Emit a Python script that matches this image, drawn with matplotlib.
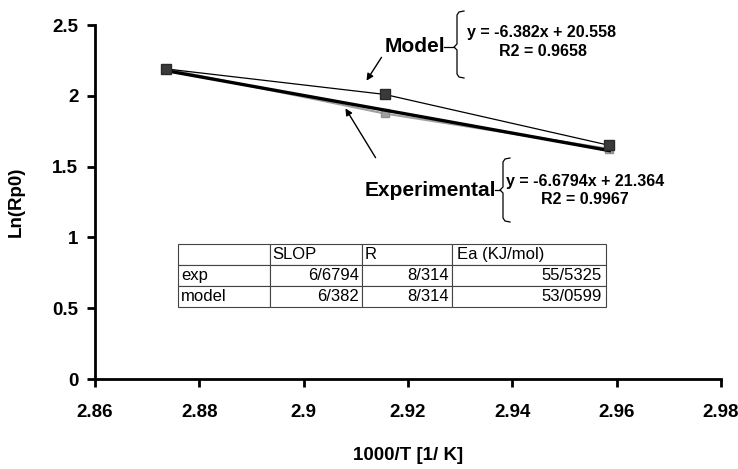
import matplotlib
matplotlib.use("Agg")
import matplotlib.pyplot as plt
import numpy as np
from matplotlib.lines import Line2D

plt.rcParams['font.family'] = ['Liberation Sans', 'DejaVu Sans']

# ---- data ----
inv_T = [2.8736, 2.9155, 2.9586]
ln_rp0_model = [2.19, 2.01, 1.65]
ln_rp0_exp = [2.19, 1.875, 1.625]

xticks = [2.86, 2.88, 2.90, 2.92, 2.94, 2.96, 2.98]
yticks = [0, 0.5, 1, 1.5, 2, 2.5]
xtick_labels = ['2.86', '2.88', '2.9', '2.92', '2.94', '2.96', '2.98']
ytick_labels = ['0', '0.5', '1', '1.5', '2', '2.5']

table_cols = ['', 'SLOP', 'R', 'Ea (KJ/mol)']
table_rows = [['exp', '6/6794', '8/314', '55/5325'],
              ['model', '6/382', '8/314', '53/0599']]

eq_model = ['y = -6.382x + 20.558', 'R2 = 0.9658']
eq_exp = ['y = -6.6794x + 21.364', 'R2 = 0.9967']

W, H = 738, 469
fig = plt.figure(figsize=(W / 100, H / 100), dpi=100)
ax = fig.add_axes([95 / W, 1 - 379 / H, 626 / W, 354 / H])

# exp series (gray), model series (thin black), trendline (thick black)
ax.plot(inv_T, ln_rp0_exp, color='#a0a0a0', lw=1.5, marker='s', ms=6,
        mfc='#a0a0a0', mec='#909090', zorder=3)
coef = np.polyfit(inv_T, ln_rp0_exp, 1)
xt = np.array([inv_T[0], inv_T[-1]])
ax.plot(xt, np.polyval(coef, xt), color='black', lw=2.4, zorder=4)
ax.plot(inv_T, ln_rp0_model, color='black', lw=0.9, marker='s', ms=7,
        mfc='#3a3a3a', mec='#2a2a2a', zorder=5)

ax.set_xlim(2.86, 2.98)
ax.set_ylim(0, 2.5)
ax.set_xticks(xticks)
ax.set_xticklabels(xtick_labels)
ax.set_yticks(yticks)
ax.set_yticklabels(ytick_labels)
for s in ['top', 'right']:
    ax.spines[s].set_visible(False)
for s in ['left', 'bottom']:
    ax.spines[s].set_linewidth(2)
ax.tick_params(direction='out', length=6, width=2, labelsize=13.5)
for lab in ax.get_xticklabels() + ax.get_yticklabels():
    lab.set_fontweight('bold')
ax.xaxis.set_tick_params(pad=12)
ax.yaxis.set_tick_params(pad=6)
ax.set_xlabel('1000/T [1/ K]', fontsize=13.5, fontweight='bold', labelpad=19)
ax.set_ylabel('Ln(Rp0)', fontsize=13.5, fontweight='bold', labelpad=20)

# table
tbl = ax.table(cellText=table_rows, colLabels=table_cols,
               bbox=[(178 - 95) / 626, (379 - 307) / 354, 428 / 626, 63 / 354],
               colWidths=[92, 92, 90, 154], cellLoc='right')
tbl.auto_set_font_size(False)
for (r, c), cell in tbl.get_celld().items():
    cell.set_linewidth(0.8)
    cell.set_edgecolor('#444444')
    cell.get_text().set_fontsize(12)
    cell.PAD = 0.03
    if r == 0 or c == 0:
        cell.get_text().set_ha('left')
        cell._loc = 'left'

# pixel -> figure coords helper
def fp(x, y):
    return (x / W, 1 - y / H)

# annotations
ax.annotate('', xy=fp(365, 83), xycoords='figure fraction',
            xytext=fp(383, 55), textcoords='figure fraction',
            arrowprops=dict(arrowstyle='-|>', color='black', lw=1,
                            mutation_scale=10))
ax.annotate('', xy=fp(344, 106), xycoords='figure fraction',
            xytext=fp(377, 160), textcoords='figure fraction',
            arrowprops=dict(arrowstyle='-|>', color='black', lw=1,
                            mutation_scale=10))
fig.text(*fp(415, 47), 'Model', fontsize=15, fontweight='bold',
         ha='center', va='center')
fig.text(*fp(430, 191), 'Experimental', fontsize=15, fontweight='bold',
         ha='center', va='center')

def brace(x, top, bot, mid, tail_x):
    pts = [(x + 7, top), (x + 2, top + 1), (x, top + 4), (x, mid - 3),
           (x - 3, mid), (x, mid + 3), (x, bot - 4), (x + 2, bot - 1),
           (x + 7, bot)]
    xs = [p[0] / W for p in pts]
    ys = [1 - p[1] / H for p in pts]
    fig.add_artist(Line2D(xs, ys, color='black', lw=0.9,
                          transform=fig.transFigure))
    fig.add_artist(Line2D([tail_x / W, (x - 3) / W], [1 - mid / H, 1 - mid / H],
                          color='black', lw=0.9, transform=fig.transFigure))

brace(457, 11, 78, 47, 444)
brace(503, 158, 222, 190, 495)

fig.text(*fp(467, 33), eq_model[0], fontsize=11.5, fontweight='bold',
         ha='left', va='center')
fig.text(*fp(543, 52), eq_model[1], fontsize=11.5, fontweight='bold',
         ha='center', va='center')
fig.text(*fp(506, 181), eq_exp[0], fontsize=11.5, fontweight='bold',
         ha='left', va='center')
fig.text(*fp(585, 199), eq_exp[1], fontsize=11.5, fontweight='bold',
         ha='center', va='center')

fig.savefig('out.png', dpi=100)
